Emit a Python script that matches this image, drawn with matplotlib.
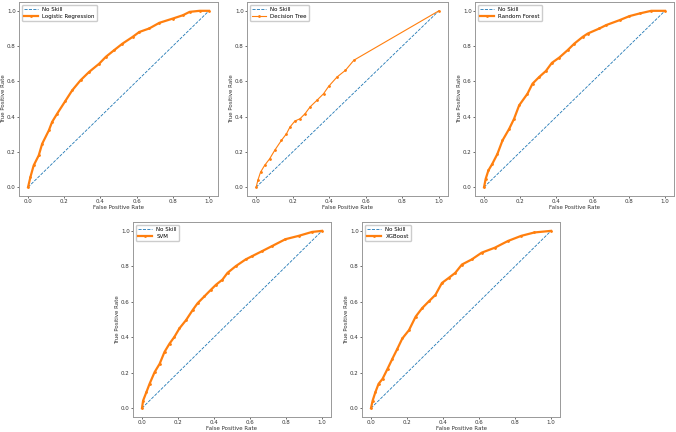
import matplotlib.pyplot as plt

# datos (fpr, tpr) por modelo
lr_fpr = [0, 0.013, 0.031, 0.059, 0.078, 0.115, 0.133, 0.161, 0.207, 0.244, 0.29, 0.337, 0.393, 0.43,
          0.476, 0.522, 0.578, 0.615, 0.67, 0.726, 0.8, 0.856, 0.893, 0.948, 1.0]
lr_tpr = [0, 0.057, 0.123, 0.18, 0.246, 0.322, 0.37, 0.417, 0.49, 0.549, 0.606, 0.653, 0.70, 0.739,
          0.777, 0.814, 0.852, 0.88, 0.90, 0.932, 0.956, 0.975, 0.994, 1.0, 1.0]

dt_fpr = [0, 0.009, 0.024, 0.046, 0.074, 0.101, 0.138, 0.166, 0.185, 0.212, 0.24, 0.268, 0.295, 0.332,
          0.369, 0.397, 0.443, 0.489, 0.535, 1.0]
dt_tpr = [0, 0.038, 0.085, 0.123, 0.161, 0.208, 0.265, 0.303, 0.341, 0.375, 0.388, 0.417, 0.455, 0.492,
          0.53, 0.572, 0.625, 0.663, 0.72, 1.0]

rf_fpr = [0, 0.009, 0.024, 0.046, 0.074, 0.102, 0.139, 0.166, 0.194, 0.24, 0.268, 0.305, 0.342, 0.375,
          0.416, 0.462, 0.499, 0.545, 0.573, 0.638, 0.675, 0.749, 0.804, 0.86, 0.924, 1.0]
rf_tpr = [0, 0.047, 0.095, 0.133, 0.189, 0.265, 0.331, 0.388, 0.464, 0.53, 0.587, 0.625, 0.659, 0.705,
          0.735, 0.777, 0.814, 0.852, 0.871, 0.9, 0.919, 0.947, 0.97, 0.985, 1.0, 1.0]

svm_fpr = [0, 0.006, 0.024, 0.042, 0.07, 0.098, 0.125, 0.153, 0.18, 0.208, 0.245, 0.282, 0.309, 0.346,
           0.383, 0.411, 0.447, 0.475, 0.521, 0.576, 0.613, 0.668, 0.724, 0.797, 0.871, 0.945, 1.0]
svm_tpr = [0, 0.042, 0.089, 0.137, 0.203, 0.25, 0.317, 0.364, 0.402, 0.45, 0.497, 0.554, 0.592, 0.63,
           0.668, 0.696, 0.725, 0.763, 0.801, 0.839, 0.858, 0.886, 0.915, 0.953, 0.972, 0.994, 1.0]

xgb_fpr = [0, 0.009, 0.024, 0.042, 0.064, 0.092, 0.119, 0.147, 0.174, 0.211, 0.248, 0.284, 0.321, 0.358,
           0.394, 0.431, 0.468, 0.505, 0.56, 0.615, 0.688, 0.761, 0.835, 0.908, 1.0]
xgb_tpr = [0, 0.042, 0.089, 0.137, 0.165, 0.222, 0.279, 0.336, 0.393, 0.44, 0.516, 0.564, 0.602, 0.639,
           0.706, 0.734, 0.763, 0.81, 0.839, 0.877, 0.905, 0.943, 0.972, 0.991, 1.0]

no_skill = [0, 1]

modelos = ["Logistic Regression", "Decision Tree", "Random Forest", "SVM", "XGBoost"]
curvas = [(lr_fpr, lr_tpr), (dt_fpr, dt_tpr), (rf_fpr, rf_tpr), (svm_fpr, svm_tpr), (xgb_fpr, xgb_tpr)]

# posiciones de los ejes en pixeles: izquierda, derecha, arriba, abajo
W, H = 676, 432
cajas = [(19, 218, 2, 196), (247, 448, 2, 196), (475, 674, 2, 196),
         (133, 331, 222, 417), (362, 560, 222, 417)]

fs = 4

fig = plt.figure(figsize=(W / 100, H / 100), dpi=100)
fig.patch.set_facecolor('white')

for i, (nombre, (fpr, tpr)) in enumerate(zip(modelos, curvas)):
    l, r, t, b = cajas[i]
    ax = fig.add_axes([l / W, (H - b) / H, (r - l) / W, (b - t) / H])
    ax.plot(no_skill, no_skill, linestyle='--', color='#1f77b4', linewidth=0.6, label='No Skill')
    grosor = 0.8 if nombre == "Decision Tree" else 1.6
    ax.plot(fpr, tpr, marker='.', markersize=2, color='#ff7f0e', linewidth=grosor, label=nombre)
    ax.set_xlim(-0.05, 1.05)
    ax.set_ylim(-0.05, 1.05)
    ax.set_xticks([0, 0.2, 0.4, 0.6, 0.8, 1.0])
    ax.set_yticks([0, 0.2, 0.4, 0.6, 0.8, 1.0])
    ax.tick_params(labelsize=fs, length=1.6, width=0.5, pad=0.8, colors='#333333')
    for s in ax.spines.values():
        s.set_color('#999999')
        s.set_linewidth(0.7)
    ax.set_xlabel("False Positive Rate", fontsize=fs, labelpad=0.8, color='#333333')
    ax.set_ylabel("True Positive Rate", fontsize=fs, color='#333333')
    # etiqueta Y a unos 12 px del marco, como en la imagen
    ax.yaxis.set_label_coords(-12.5 / (r - l), 0.5)
    ax.legend(loc='upper left', fontsize=fs, frameon=True, handlelength=2.5,
              borderpad=0.4, labelspacing=0.3, edgecolor='#cccccc', framealpha=1)

fig.savefig("out.png", dpi=100)
